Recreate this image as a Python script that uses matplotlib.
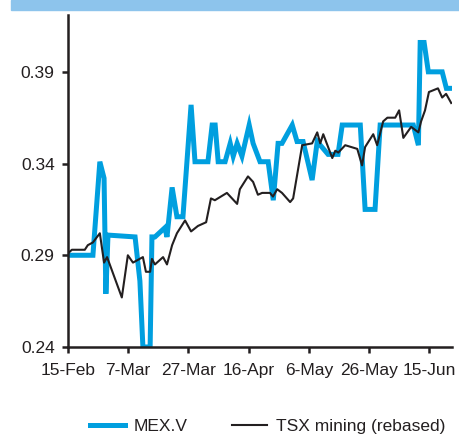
import matplotlib.pyplot as plt
from matplotlib.patches import Rectangle
import pandas as pd

plt.rcParams["font.family"] = ["Liberation Sans", "DejaVu Sans"]

start = pd.Timestamp("2011-02-15")

# MEX.V share price (days after 15-Feb, C$)
mex_days = [0, 8.3, 10.6, 12.0, 12.6, 13.3, 22.3, 23.9, 24.9, 27.3, 27.9, 28.9,
            32.2, 32.9, 34.6, 36.2, 38.2, 40.9, 42.2, 46.5, 47.9, 48.9, 49.9, 52.2,
            53.9, 54.9, 56.2, 57.8, 60.2, 61.5, 63.8, 66.5, 68.2, 69.8, 71.1, 74.5,
            76.1, 78.1, 81.1, 82.8, 86.4, 89.7, 91.1, 97.1, 98.7, 102.0, 103.7,
            114.7, 116.4, 117.0, 118.3, 119.7, 124.3, 125.7, 127.6]
mex_vals = [0.290, 0.290, 0.341, 0.332, 0.269, 0.301, 0.300, 0.276, 0.240, 0.240,
            0.300, 0.300, 0.305, 0.300, 0.327, 0.311, 0.311, 0.372, 0.341, 0.341,
            0.361, 0.361, 0.341, 0.341, 0.351, 0.344, 0.351, 0.344, 0.361, 0.351,
            0.341, 0.341, 0.320, 0.351, 0.351, 0.361, 0.352, 0.352, 0.331, 0.352,
            0.345, 0.345, 0.361, 0.361, 0.315, 0.315, 0.361, 0.361, 0.350, 0.406,
            0.406, 0.390, 0.390, 0.381, 0.381]

# TSX mining index, rebased to MEX.V
tsx_days = [0, 1.3, 5.6, 6.6, 8.3, 10.6, 12.0, 13.0, 17.9, 19.9, 21.6, 24.9, 25.9,
            27.3, 27.9, 28.9, 31.6, 32.9, 34.6, 36.2, 38.9, 40.9, 43.2, 45.9, 47.5,
            48.8, 52.8, 54.5, 56.2, 57.1, 59.8, 61.5, 63.1, 64.5, 67.1, 68.1, 69.5,
            71.1, 73.8, 74.8, 77.8, 81.1, 82.8, 83.8, 84.8, 87.8, 88.8, 89.8, 92.1,
            96.1, 97.7, 98.7, 101.4, 102.7, 104.7, 106.1, 108.7, 110.0, 111.4, 114.0,
            116.4, 117.3, 118.6, 119.9, 122.9, 124.3, 125.6, 127.3]
tsx_vals = [0.291, 0.293, 0.293, 0.2955, 0.297, 0.302, 0.286, 0.289, 0.267, 0.290,
            0.286, 0.289, 0.281, 0.281, 0.288, 0.285, 0.289, 0.285, 0.2955, 0.302,
            0.309, 0.303, 0.306, 0.308, 0.321, 0.320, 0.324, 0.321, 0.318, 0.326,
            0.333, 0.330, 0.323, 0.324, 0.324, 0.322, 0.326, 0.324, 0.319, 0.321,
            0.350, 0.351, 0.357, 0.351, 0.356, 0.343, 0.347, 0.346, 0.350, 0.348,
            0.339, 0.349, 0.356, 0.350, 0.363, 0.365, 0.365, 0.369, 0.354, 0.360,
            0.357, 0.363, 0.369, 0.379, 0.381, 0.376, 0.378, 0.373]

yticks = [0.24, 0.29, 0.34, 0.39]
xtick_labels = ["15-Feb", "7-Mar", "27-Mar", "16-Apr", "6-May", "26-May", "15-Jun"]

mex_dates = start + pd.to_timedelta(mex_days, unit="D")
tsx_dates = start + pd.to_timedelta(tsx_days, unit="D")
xtick_dates = [start + pd.Timedelta(days=20 * i) for i in range(len(xtick_labels))]

fig = plt.figure(figsize=(4.59, 4.34), dpi=100)
ax = fig.add_axes([0.148, 0.2005, 0.837, 0.765])

# light blue header strip
fig.patches.append(Rectangle((11 / 459, 1 - 10 / 434), 1, 10 / 434,
                             transform=fig.transFigure, color="#8DC4EC", zorder=0))

ax.plot(mex_dates, mex_vals, color="#009FDF", lw=3.6, label="MEX.V",
        solid_joinstyle="miter")
ax.plot(tsx_dates, tsx_vals, color="#231F20", lw=1.5, label="TSX mining (rebased)")

ax.set_ylim(0.24, 0.421)
ax.set_xlim(start, start + pd.Timedelta(days=127.6))
ax.set_yticks(yticks)
ax.set_yticklabels([f"{v:.2f}" for v in yticks])
ax.set_xticks(xtick_dates)
ax.set_xticklabels(xtick_labels)

for side in ["top", "right"]:
    ax.spines[side].set_visible(False)
for side in ["left", "bottom"]:
    ax.spines[side].set_linewidth(1.8)
    ax.spines[side].set_color("#231F20")
ax.tick_params(axis="both", direction="out", length=4.5, width=1.8,
               color="#231F20", labelsize=12.5, labelcolor="#231F20")
ax.tick_params(axis="x", pad=7)
ax.tick_params(axis="y", pad=5)

fig.legend(loc="center", bbox_to_anchor=(0.583, 0.018), ncol=2, frameon=False,
           fontsize=12.5, handlelength=2.0, columnspacing=2.6, handletextpad=0.5,
           labelcolor="#231F20")

fig.savefig("out.png", dpi=100)
